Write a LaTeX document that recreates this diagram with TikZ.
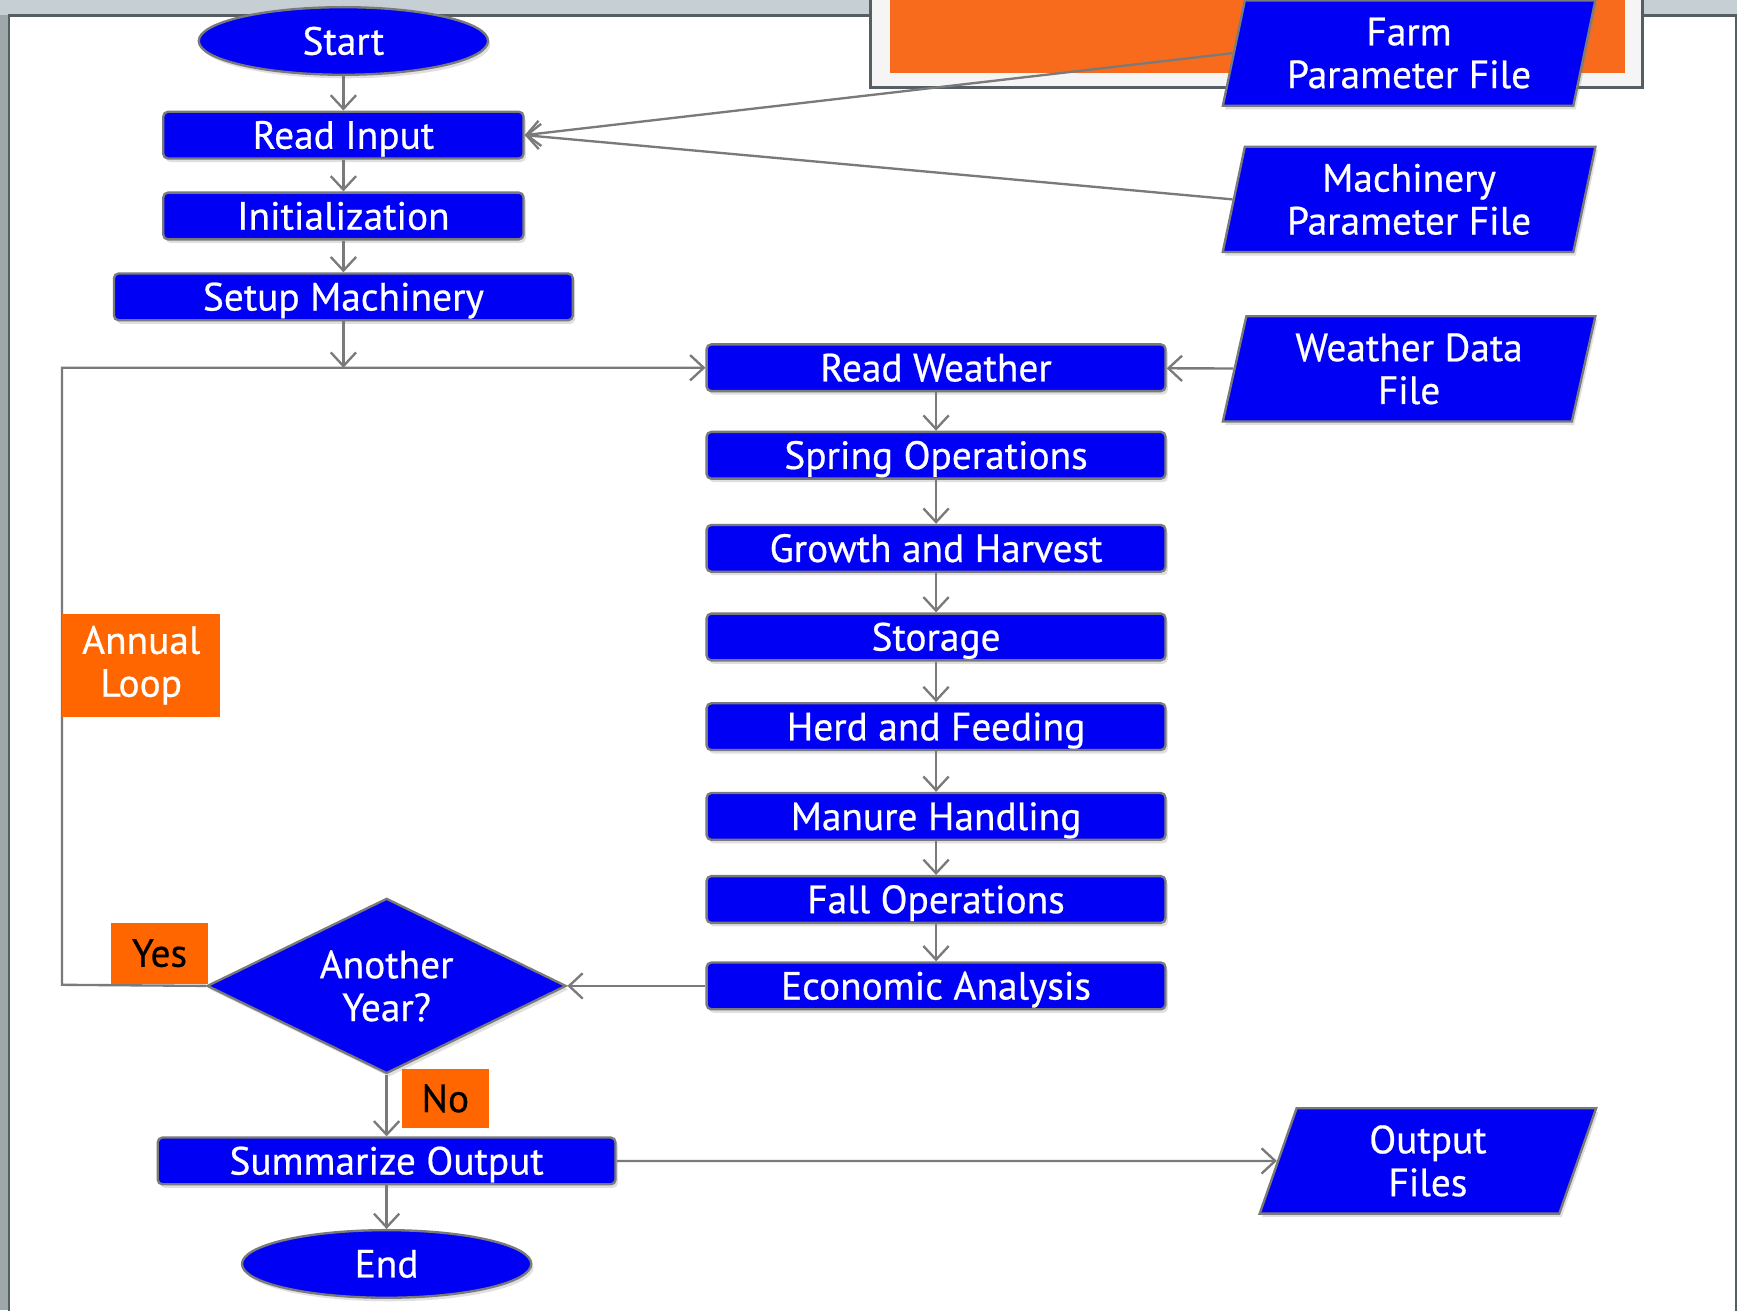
\documentclass[tikz,border=0pt]{standalone}
\usepackage{fontspec}
\setmainfont[FakeBold=0.6]{PT Sans}
\usetikzlibrary{shapes.geometric,arrows.meta,shadows}
\definecolor{boxblue}{HTML}{0000F5}
\definecolor{edgegray}{HTML}{7A7A7A}
\definecolor{tagorange}{HTML}{FF6600}
\definecolor{banner}{HTML}{F96B1C}
\definecolor{backgray}{HTML}{C6D0D4}
\definecolor{stripgray}{HTML}{9EA7AA}
\definecolor{panelline}{HTML}{555E62}
\tikzset{
  flow/.style={fill=boxblue, draw=edgegray, line width=0.6pt, text=white,
    font=\fontsize{10.1}{11}\selectfont, align=center,
    drop shadow={opacity=0.25, shadow xshift=0.6pt, shadow yshift=-0.9pt}},
  proc/.style={flow, rectangle, rounded corners=1.2pt, minimum height=0.42cm, inner sep=0pt,
    text height=0.95em, text depth=0.25em},
  term/.style={flow, ellipse, minimum width=2.61cm, minimum height=0.61cm, inner sep=0pt},
  datafile/.style={flow, trapezium, trapezium left angle=77, trapezium right angle=103,
    trapezium stretches=true, minimum width=3.38cm, minimum height=0.95cm, inner sep=0pt},
  decide/.style={flow, diamond, aspect=2.05, minimum width=3.24cm, minimum height=1.58cm, inner sep=0pt},
  tag/.style={fill=tagorange, font=\fontsize{10.1}{11}\selectfont, align=center, inner sep=0pt},
  conn/.style={draw=edgegray, line width=0.6pt, -{Straight Barb[length=3.5pt,width=6.5pt]}},
}
\begin{document}
\begin{tikzpicture}[x=0.01cm, y=-0.01cm]
  \useasboundingbox (0,0) rectangle (1568,1183);
  \clip (0,0) rectangle (1568,1183);
  % slide background
  \fill[backgray] (0,0) rectangle (1568,1183);
  \fill[stripgray] (0,14) rectangle (8,1183);
  \draw[fill=white, draw=panelline, line width=0.6pt] (8,14) rectangle (1567,1200);
  \draw[fill=gray!8, draw=panelline, line width=0.8pt] (786,-10) rectangle (1483,79);
  \fill[banner] (803,-10) rectangle (1467,66);

  % main flow
  \node[term] (start) at (310,37) {Start};
  \node[proc, minimum width=3.25cm] (readin) at (310,122) {Read Input};
  \node[proc, minimum width=3.25cm] (init) at (310,195) {Initialization};
  \node[proc, minimum width=4.14cm] (setup) at (310,268) {Setup Machinery};

  \node[proc, minimum width=4.14cm] (rweather) at (845,332) {Read Weather};
  \node[proc, minimum width=4.14cm] (spring) at (845,411) {Spring Operations};
  \node[proc, minimum width=4.14cm] (growth) at (845,495) {Growth and Harvest};
  \node[proc, minimum width=4.14cm] (storage) at (845,575) {Storage};
  \node[proc, minimum width=4.14cm] (herd) at (845,656) {Herd and Feeding};
  \node[proc, minimum width=4.14cm] (manure) at (845,737) {Manure Handling};
  \node[proc, minimum width=4.14cm] (fall) at (845,812) {Fall Operations};
  \node[proc, minimum width=4.14cm] (econ) at (845,890) {Economic Analysis};

  \node[decide] (another) at (349,890) {Another\\Year?};
  \node[proc, minimum width=4.13cm] (summ) at (349,1048) {Summarize Output};
  \node[term] (stop) at (349,1141) {End};

  % files
  \node[datafile] (farm) at (1272,48) {Farm\\Parameter File};
  \node[datafile] (machfile) at (1272,180) {Machinery\\Parameter File};
  \node[datafile] (weatherfile) at (1272,333) {Weather Data\\File};
  \node[datafile, minimum width=3.04cm] (outfile) at (1289,1048) {Output\\Files};

  % connectors
  \foreach \a/\b in {start/readin, readin/init, init/setup, rweather/spring,
      spring/growth, growth/storage, storage/herd, herd/manure, manure/fall,
      fall/econ, another/summ, summ/stop}
    \draw[conn] (\a) -- (\b);
  \draw[conn] (econ) -- (another);
  \draw[conn] (summ) -- (outfile);
  \draw[conn] (weatherfile) -- (rweather);
  \draw[conn] (farm.west) -- (readin.east);
  \draw[conn] (machfile.west) -- (readin.east);
  \draw[conn] (setup.south) -- (setup.south |- rweather.west);
  \coordinate (loopcorner) at (56,889);
  \draw[conn] (another.west) -- (loopcorner) |- (rweather.west);

  % labels
  \node[tag, text=white, minimum width=1.43cm, minimum height=0.93cm] (annual) at (127.5,600.5) {Annual\\Loop};
  \node[tag, minimum width=0.88cm, minimum height=0.55cm] (yes) at (144,860.5) {Yes};
  \node[tag, minimum width=0.78cm, minimum height=0.53cm] (no) at (402,991.5) {No};
\end{tikzpicture}
\end{document}
